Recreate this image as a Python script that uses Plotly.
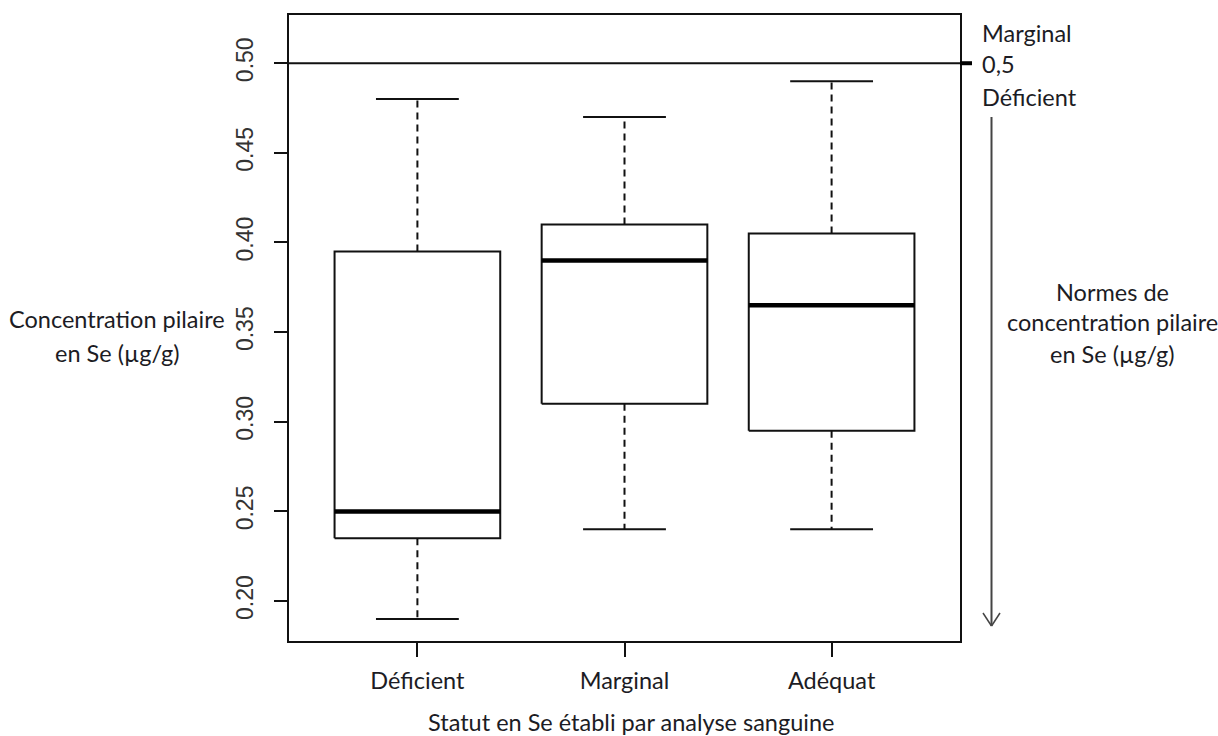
import plotly.graph_objects as go

# Hair selenium concentration (µg/g) by blood selenium status
categories = ["Déficient", "Marginal", "Adéquat"]
lower_whisker = [0.19, 0.24, 0.24]
q1 = [0.235, 0.31, 0.295]
median = [0.25, 0.39, 0.365]
q3 = [0.395, 0.41, 0.405]
upper_whisker = [0.48, 0.47, 0.49]
y_ticks = [0.20, 0.25, 0.30, 0.35, 0.40, 0.45, 0.50]
y_tick_labels = ["0.20", "0.25", "0.30", "0.35", "0.40", "0.45", "0.50"]
threshold = 0.50

W, H = 1218, 736
L, R, T, B = 289, 258, 15, 95
PW, PH = W - L - R, H - T - B

BOX_HALF = 0.4
CAP_HALF = 0.2
INK = "#111111"
TEXT = "#1c1c24"
LABEL_FONT = "Lato"
LABEL_SIZE = 23.5


def px_x(px):
    return (px - L) / PW


def px_y(py):
    return (H - B - py) / PH


box_x, box_y = [], []
med_x, med_y = [], []
wh_x, wh_y = [], []
cap_x, cap_y = [], []
for i in range(len(categories)):
    c = i + 1
    box_x += [c - BOX_HALF, c + BOX_HALF, c + BOX_HALF, c - BOX_HALF, c - BOX_HALF, None]
    box_y += [q1[i], q1[i], q3[i], q3[i], q1[i], None]
    med_x += [c - BOX_HALF, c + BOX_HALF, None]
    med_y += [median[i], median[i], None]
    wh_x += [c, c, None, c, c, None]
    wh_y += [q3[i], upper_whisker[i], None, q1[i], lower_whisker[i], None]
    cap_x += [c - CAP_HALF, c + CAP_HALF, None, c - CAP_HALF, c + CAP_HALF, None]
    cap_y += [upper_whisker[i], upper_whisker[i], None, lower_whisker[i], lower_whisker[i], None]

fig = go.Figure()
fig.add_trace(go.Scatter(x=wh_x, y=wh_y, mode="lines",
                         line=dict(color=INK, width=2, dash="7px,5px"), hoverinfo="skip"))
fig.add_trace(go.Scatter(x=cap_x, y=cap_y, mode="lines",
                         line=dict(color=INK, width=2), hoverinfo="skip"))
fig.add_trace(go.Scatter(x=box_x, y=box_y, mode="lines",
                         line=dict(color=INK, width=2), hoverinfo="skip"))
fig.add_trace(go.Scatter(x=med_x, y=med_y, mode="lines",
                         line=dict(color="#000000", width=4.5), hoverinfo="skip"))

# reference line at the deficiency threshold, with its marker on the right edge
fig.add_shape(type="line", xref="paper", yref="y", x0=0, x1=1, y0=threshold, y1=threshold,
              line=dict(color=INK, width=2))
fig.add_shape(type="line", xref="paper", yref="y", x0=1, x1=px_x(972), y0=threshold, y1=threshold,
              line=dict(color="#000000", width=4))

# downward arrow on the right side
ax = px_x(991.5)
fig.add_shape(type="line", xref="paper", yref="paper", x0=ax, x1=ax,
              y0=px_y(117), y1=px_y(626), line=dict(color="#444444", width=2))
fig.add_shape(type="line", xref="paper", yref="paper", x0=px_x(983), x1=ax,
              y0=px_y(613), y1=px_y(626), line=dict(color="#444444", width=1.5))
fig.add_shape(type="line", xref="paper", yref="paper", x0=px_x(1000), x1=ax,
              y0=px_y(613), y1=px_y(626), line=dict(color="#444444", width=1.5))

text_font = dict(family=LABEL_FONT, size=LABEL_SIZE, color=TEXT)


def label(text, px, py, anchor="center"):
    fig.add_annotation(text=text, xref="paper", yref="paper", x=px_x(px), y=px_y(py),
                       xanchor=anchor, yanchor="middle", showarrow=False, font=text_font)


for text, py in [("Marginal", 33), ("0,5", 64), ("Déficient", 97)]:
    label(text, 980, py, "left")

for text, py in [("Normes de", 292), ("concentration pilaire", 322), ("en Se (µg/g)", 354)]:
    label(text, 1112, py)

for text, py in [("Concentration pilaire", 319), ("en Se (µg/g)", 353)]:
    label(text, 117, py)

label("Statut en Se établi par analyse sanguine", 631, 722)

fig.update_layout(
    width=W, height=H,
    margin=dict(l=L, r=R, t=T, b=B, pad=0),
    paper_bgcolor="white", plot_bgcolor="white",
    showlegend=False,
    xaxis=dict(range=[0.38, 3.62], tickvals=[1, 2, 3], ticktext=categories,
               ticks="outside", ticklen=14, tickwidth=2, tickcolor=INK,
               showline=True, mirror=True, linewidth=2, linecolor=INK,
               showgrid=False, zeroline=False, ticklabelstandoff=4,
               tickfont=dict(family=LABEL_FONT, size=LABEL_SIZE, color=TEXT)),
    yaxis=dict(range=[0.1777, 0.5269], tickvals=y_ticks, ticktext=y_tick_labels,
               tickangle=-90, ticks="outside", ticklen=13, tickwidth=2, tickcolor=INK,
               showline=True, mirror=True, linewidth=2, linecolor=INK,
               showgrid=False, zeroline=False, ticklabelstandoff=12,
               tickfont=dict(family="Liberation Sans", size=23, color="#333333")),
)

fig.write_html("out.html")
